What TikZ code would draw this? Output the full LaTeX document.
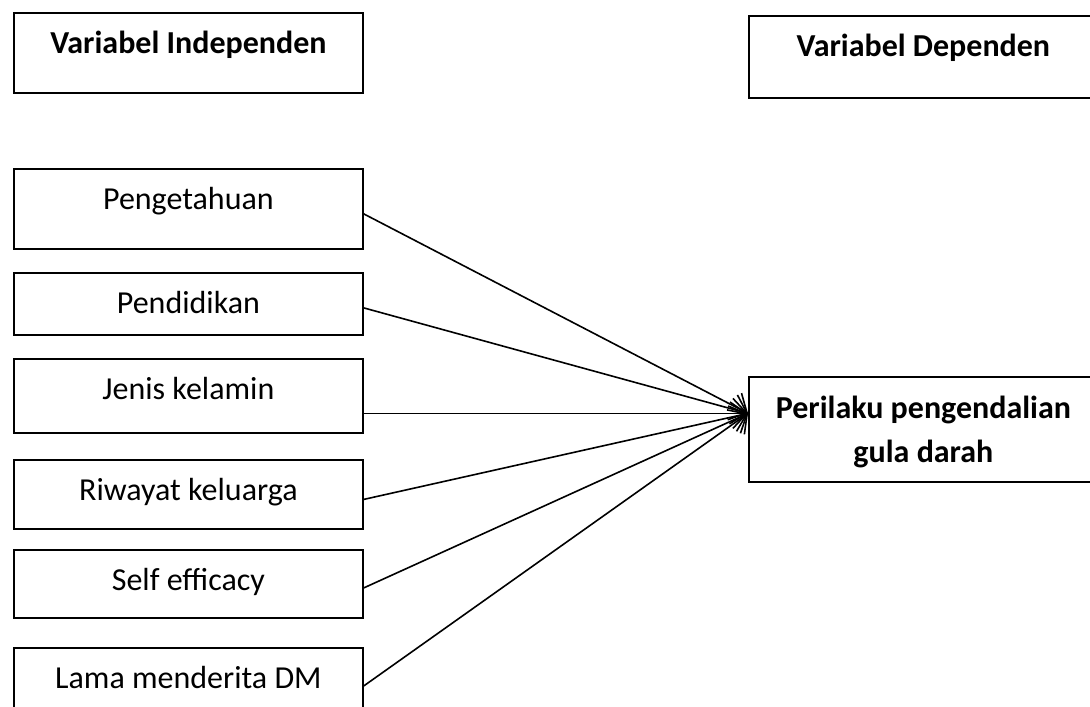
\documentclass[tikz,border=0pt]{standalone}
\usepackage{fontspec}
\setmainfont{Carlito}
\usetikzlibrary{positioning,arrows.meta}

\begin{document}
\begin{tikzpicture}[x=1pt,y=-1pt,
    box/.style={draw,line width=1.8pt,rectangle,anchor=north west,minimum width=349pt,
        inner xsep=0pt,inner ysep=0pt,text height=41pt,font=\fontsize{32}{38}\selectfont},
    head/.style={box,font=\bfseries\fontsize{32}{38}\selectfont},
    link/.style={line width=1.6pt,-{Straight Barb[length=14pt,width=30pt]}}]
    \useasboundingbox (0,0) rectangle (1090,707);
    % headings
    \node [head,text depth=39pt] (indep) at (13,12) {Variabel Independen};
    \node [head,text depth=41pt] (dep) at (748,15) {Variabel Dependen};
    % independent variables
    \node [box,text depth=39pt] (pengetahuan) at (13,168) {Pengetahuan};
    \node [box,text depth=21pt] (pendidikan) at (13,272) {Pendidikan};
    \node [box,text depth=33pt] (jenis) at (13,358) {Jenis kelamin};
    \node [box,text depth=28pt] (riwayat) at (13,459) {Riwayat keluarga};
    \node [box,text depth=27pt] (self) at (13,549) {Self efficacy};
    \node [box,text depth=33pt] (lama) at (13,647) {Lama menderita DM};
    % dependent variable
    \node [head,align=center,text height=86pt,text depth=19pt,
        font=\bfseries\fontsize{32}{44}\selectfont] (perilaku) at (748,376)
        {Perilaku pengendalian\\gula darah};
    \coordinate (tip) at ([yshift=16pt]perilaku.west);
    \draw[link] ([yshift=-5pt]pengetahuan.east) -- (tip);
    \draw[link] ([yshift=-4pt]pendidikan.east) -- (tip);
    \draw[link] (jenis.east |- tip) -- (tip);
    \draw[link] ([yshift=-5pt]riwayat.east) -- (tip);
    \draw[link] ([yshift=-4pt]self.east) -- (tip);
    \draw[link] ([yshift=-1pt]lama.east) -- (tip);
\end{tikzpicture}
\end{document}
